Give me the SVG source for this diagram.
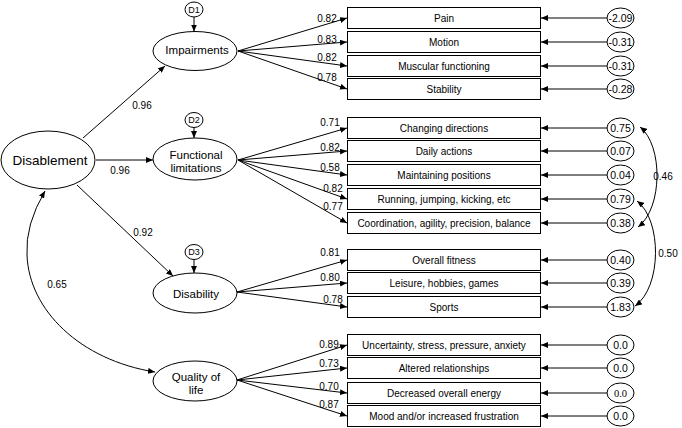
<svg xmlns="http://www.w3.org/2000/svg" width="682" height="428" viewBox="0 0 682 428">
<defs>
<marker id="ah" markerUnits="userSpaceOnUse" markerWidth="8" markerHeight="6" refX="7" refY="3" orient="auto-start-reverse">
<path d="M0,0 L7,3 L0,6 z" fill="#000"/>
</marker>
<style>
.lat{fill:#fff;stroke:#000;stroke-width:1}
.box{fill:#fff;stroke:#000;stroke-width:1}
.err{fill:#fff;stroke:#000;stroke-width:1}
.t{font-family:"Liberation Sans",Arial,sans-serif;fill:#000;text-anchor:middle}
.tl{font-size:11.5px}
.tb{font-size:10px}
.te{font-size:10.5px}
.tc{font-size:10px}
.td{font-size:9px}
.c{fill:none;stroke:#000;stroke-width:1;marker-end:url(#ah)}
.cc{fill:none;stroke:#000;stroke-width:1;marker-end:url(#ah);marker-start:url(#ah)}
</style>
</defs>
<rect width="682" height="428" fill="#fff"/>

<g id="connectors">
<!-- structural paths -->
<line class="c" x1="83" y1="138" x2="165" y2="66"/>
<line class="c" x1="96" y1="160" x2="153" y2="160"/>
<line class="c" x1="77" y1="185" x2="173" y2="276"/>
<path class="cc" d="M45,191 Q25,225 27,255 C29,310 80,360 155,372"/>
<!-- disturbances -->
<line class="c" x1="194" y1="17" x2="194" y2="31.5"/>
<line class="c" x1="194" y1="127.5" x2="194" y2="138"/>
<line class="c" x1="194" y1="259.5" x2="194" y2="273"/>
<!-- loadings: impairments -->
<line class="c" x1="238" y1="51" x2="347" y2="18"/>
<line class="c" x1="238" y1="51" x2="347" y2="42"/>
<line class="c" x1="238" y1="51" x2="347" y2="66"/>
<line class="c" x1="238" y1="51" x2="347" y2="89"/>
<!-- loadings: functional -->
<line class="c" x1="238" y1="160" x2="347" y2="128"/>
<line class="c" x1="238" y1="160" x2="347" y2="151"/>
<line class="c" x1="238" y1="160" x2="347" y2="175"/>
<line class="c" x1="238" y1="160" x2="347" y2="199"/>
<line class="c" x1="238" y1="160" x2="347" y2="223"/>
<!-- loadings: disability -->
<line class="c" x1="237" y1="292" x2="347" y2="260"/>
<line class="c" x1="237" y1="292" x2="347" y2="283"/>
<line class="c" x1="237" y1="292" x2="347" y2="307"/>
<!-- loadings: quality -->
<line class="c" x1="237" y1="380" x2="347" y2="345"/>
<line class="c" x1="237" y1="380" x2="347" y2="368"/>
<line class="c" x1="237" y1="380" x2="347" y2="393"/>
<line class="c" x1="237" y1="380" x2="347" y2="416"/>
<!-- errors -->
<line class="c" x1="607" y1="18" x2="541" y2="18"/>
<line class="c" x1="607" y1="42" x2="541" y2="42"/>
<line class="c" x1="607" y1="66" x2="541" y2="66"/>
<line class="c" x1="607" y1="89" x2="541" y2="89"/>
<line class="c" x1="607" y1="128" x2="541" y2="128"/>
<line class="c" x1="607" y1="151" x2="541" y2="151"/>
<line class="c" x1="607" y1="175" x2="541" y2="175"/>
<line class="c" x1="607" y1="199" x2="541" y2="199"/>
<line class="c" x1="607" y1="223" x2="541" y2="223"/>
<line class="c" x1="607" y1="260" x2="541" y2="260"/>
<line class="c" x1="607" y1="283" x2="541" y2="283"/>
<line class="c" x1="607" y1="307" x2="541" y2="307"/>
<line class="c" x1="607" y1="345" x2="541" y2="345"/>
<line class="c" x1="607" y1="368" x2="541" y2="368"/>
<line class="c" x1="607" y1="393" x2="541" y2="393"/>
<line class="c" x1="607" y1="416" x2="541" y2="416"/>
<!-- covariances -->
<path class="cc" d="M640,127 C663,145 663,208 638,227"/>
<path class="cc" d="M637,201 C662,220 662,287 635,306"/>
<!-- labels -->
<text class="t tc" x="142" y="109">0.96</text>
<text class="t tc" x="120" y="174">0.96</text>
<text class="t tc" x="143" y="235.5">0.92</text>
<text class="t tc" x="57" y="287.5">0.65</text>
<text class="t tc" x="663" y="180">0.46</text>
<text class="t tc" x="668" y="257">0.50</text>
<text class="t tc" x="327" y="21.5">0.82</text>
<text class="t tc" x="327" y="42.5">0.83</text>
<text class="t tc" x="327" y="60.5">0.82</text>
<text class="t tc" x="327" y="80.5">0.78</text>
<text class="t tc" x="330" y="125.5">0.71</text>
<text class="t tc" x="330" y="150.5">0.82</text>
<text class="t tc" x="330" y="170.5">0.58</text>
<text class="t tc" x="333" y="191.5">0.82</text>
<text class="t tc" x="333" y="209.5">0.77</text>
<text class="t tc" x="330" y="255.5">0.81</text>
<text class="t tc" x="330" y="280.5">0.80</text>
<text class="t tc" x="333" y="302.5">0.78</text>
<text class="t tc" x="329" y="347.5">0.89</text>
<text class="t tc" x="329" y="366.5">0.73</text>
<text class="t tc" x="329" y="389.5">0.70</text>
<text class="t tc" x="329" y="407.5">0.87</text>
</g>

<g id="disablement"><ellipse class="lat" cx="48" cy="160" rx="47" ry="29"/><text class="t" style="font-size:13.5px" x="50" y="165">Disablement</text></g>
<g id="impairments"><ellipse class="lat" cx="195" cy="51" rx="42" ry="19.5"/><text class="t tl" x="197" y="54">Impairments</text></g>
<g id="functional"><ellipse class="lat" cx="195" cy="159" rx="42" ry="21"/><text class="t tl" x="196" y="158.5">Functional</text><text class="t tl" x="196" y="171.5">limitations</text></g>
<g id="disability"><ellipse class="lat" cx="195" cy="293" rx="42" ry="20"/><text class="t tl" x="196" y="297.5">Disability</text></g>
<g id="quality"><ellipse class="lat" cx="195" cy="381" rx="42" ry="20"/><text class="t tl" x="196" y="380.5">Quality of</text><text class="t tl" x="196" y="393.5">life</text></g>

<g id="D1"><ellipse class="err" cx="194" cy="9.5" rx="9" ry="7.5"/><text class="t td" x="194" y="12.5">D1</text></g>
<g id="D2"><ellipse class="err" cx="194" cy="120" rx="9" ry="7.5"/><text class="t td" x="194" y="123">D2</text></g>
<g id="D3"><ellipse class="err" cx="194" cy="252" rx="9" ry="7.5"/><text class="t td" x="194" y="255">D3</text></g>

<g id="pain"><rect class="box" x="347.5" y="7.5" width="193" height="21"/><text class="t tb" x="444" y="21.5">Pain</text></g>
<g id="motion"><rect class="box" x="347.5" y="31.5" width="193" height="21"/><text class="t tb" x="444" y="45.5">Motion</text></g>
<g id="muscular"><rect class="box" x="347.5" y="55.5" width="193" height="21"/><text class="t tb" x="444" y="69.5">Muscular functioning</text></g>
<g id="stability"><rect class="box" x="347.5" y="78.5" width="193" height="21"/><text class="t tb" x="444" y="92.5">Stability</text></g>
<g id="changing"><rect class="box" x="347.5" y="117.5" width="193" height="21"/><text class="t tb" x="444" y="131.5">Changing directions</text></g>
<g id="daily"><rect class="box" x="347.5" y="140.5" width="193" height="21"/><text class="t tb" x="444" y="154.5">Daily actions</text></g>
<g id="maintaining"><rect class="box" x="347.5" y="164.5" width="193" height="21"/><text class="t tb" x="444" y="178.5">Maintaining positions</text></g>
<g id="running"><rect class="box" x="347.5" y="188.5" width="193" height="21"/><text class="t tb" x="444" y="202.5">Running, jumping, kicking, etc</text></g>
<g id="coordination"><rect class="box" x="347.5" y="212.5" width="193" height="21"/><text class="t tb" x="444" y="226.5">Coordination, agility, precision, balance</text></g>
<g id="fitness"><rect class="box" x="347.5" y="249.5" width="193" height="21"/><text class="t tb" x="444" y="263.5">Overall fitness</text></g>
<g id="leisure"><rect class="box" x="347.5" y="272.5" width="193" height="21"/><text class="t tb" x="444" y="286.5">Leisure, hobbies, games</text></g>
<g id="sports"><rect class="box" x="347.5" y="296.5" width="193" height="21"/><text class="t tb" x="444" y="310.5">Sports</text></g>
<g id="uncertainty"><rect class="box" x="347.5" y="334.5" width="193" height="21"/><text class="t tb" x="444" y="348.5">Uncertainty, stress, pressure, anxiety</text></g>
<g id="relationships"><rect class="box" x="347.5" y="357.5" width="193" height="21"/><text class="t tb" x="444" y="371.5">Altered relationships</text></g>
<g id="energy"><rect class="box" x="347.5" y="382.5" width="193" height="21"/><text class="t tb" x="444" y="396.5">Decreased overall energy</text></g>
<g id="mood"><rect class="box" x="347.5" y="405.5" width="193" height="21"/><text class="t tb" x="444" y="419.5">Mood and/or increased frustration</text></g>

<g id="e1"><ellipse class="err" cx="620.5" cy="18" rx="13.5" ry="10"/><text class="t te" x="620.5" y="22">-2.09</text></g>
<g id="e2"><ellipse class="err" cx="620.5" cy="42" rx="13.5" ry="10"/><text class="t te" x="620.5" y="46">-0.31</text></g>
<g id="e3"><ellipse class="err" cx="620.5" cy="66" rx="13.5" ry="10"/><text class="t te" x="620.5" y="70">-0.31</text></g>
<g id="e4"><ellipse class="err" cx="620.5" cy="89" rx="13.5" ry="10"/><text class="t te" x="620.5" y="93">-0.28</text></g>
<g id="e5"><ellipse class="err" cx="620.5" cy="128" rx="13.5" ry="10"/><text class="t te" x="620.5" y="132">0.75</text></g>
<g id="e6"><ellipse class="err" cx="620.5" cy="151" rx="13.5" ry="10"/><text class="t te" x="620.5" y="155">0.07</text></g>
<g id="e7"><ellipse class="err" cx="620.5" cy="175" rx="13.5" ry="10"/><text class="t te" x="620.5" y="179">0.04</text></g>
<g id="e8"><ellipse class="err" cx="620.5" cy="199" rx="13.5" ry="10"/><text class="t te" x="620.5" y="203">0.79</text></g>
<g id="e9"><ellipse class="err" cx="620.5" cy="223" rx="13.5" ry="10"/><text class="t te" x="620.5" y="227">0.38</text></g>
<g id="e10"><ellipse class="err" cx="620.5" cy="260" rx="13.5" ry="10"/><text class="t te" x="620.5" y="264">0.40</text></g>
<g id="e11"><ellipse class="err" cx="620.5" cy="283" rx="13.5" ry="10"/><text class="t te" x="620.5" y="287">0.39</text></g>
<g id="e12"><ellipse class="err" cx="620.5" cy="307" rx="13.5" ry="10"/><text class="t te" x="620.5" y="311">1.83</text></g>
<g id="e13"><ellipse class="err" cx="620.5" cy="345" rx="13.5" ry="10"/><text class="t te" x="620.5" y="349">0.0</text></g>
<g id="e14"><ellipse class="err" cx="620.5" cy="368" rx="13.5" ry="10"/><text class="t te" x="620.5" y="372">0.0</text></g>
<g id="e15"><ellipse class="err" cx="620.5" cy="393" rx="13.5" ry="10"/><text class="t te" style="font-family:'Liberation Serif','Times New Roman',serif" x="620.5" y="397">0.0</text></g>
<g id="e16"><ellipse class="err" cx="620.5" cy="416" rx="13.5" ry="10"/><text class="t te" x="620.5" y="420">0.0</text></g>
</svg>
